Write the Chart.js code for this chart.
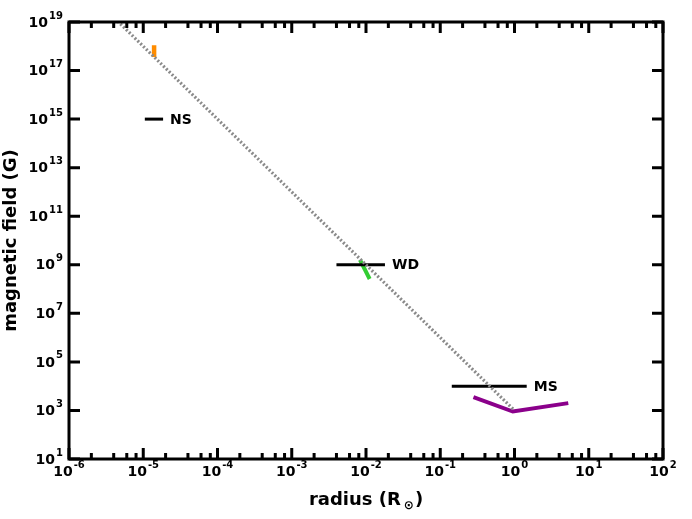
<!DOCTYPE html>
<html>
<head>
<meta charset="utf-8">
<script src="https://cdn.jsdelivr.net/npm/chart.js@4"></script>
<style>
  html, body { margin: 0; padding: 0; background: #fff; }
</style>
</head>
<body>
<canvas id="chart-bfield" width="692" height="519"></canvas>
<script>
// axis ranges + ticks (exponents of 10)
const xRange = [1e-6, 1e2];
const yRange = [1e1, 1e19];
const xTickExps = [-6, -5, -4, -3, -2, -1, 0, 1, 2];
const yTickExps = [1, 3, 5, 7, 9, 11, 13, 15, 17, 19];
const xMinorMults = [2, 4, 6, 8];

// series: radius (R_sun) vs field (G)
const scalingR = [1e-6, 1];
const scalingB = [1e21, 1e3];
const orangeR = [1.4e-5, 1.4e-5];
const orangeB = [1.1e18, 3.6e17];
const nsR = [1.05e-5, 1.85e-5];
const nsB = [1e15, 1e15];
const wdR = [4e-3, 1.8e-2];
const wdB = [1e9, 1e9];
const greenR = [8.3e-3, 1.12e-2];
const greenB = [1.6e9, 2.6e8];
const msR = [0.143, 1.46];
const msB = [1e4, 1e4];
const purpleR = [0.28, 0.95, 5.3];
const purpleB = [3.5e3, 9e2, 2e3];
const groupNames = ['NS', 'WD', 'MS'];

const FONT = "'DejaVu Sans', sans-serif";

function pts(xs, ys) { return xs.map((x, i) => ({ x: x, y: ys[i] })); }

function seg(data, color, width, dash) {
    return { data: data, borderColor: color, borderWidth: width, borderDash: dash || [],
             showLine: true, pointRadius: 0, fill: false, borderCapStyle: 'butt', tension: 0 };
}

function powLabel(ctx, exp, x, y, align) {
    const base = '10', sup = String(exp);
    ctx.font = 'bold 14px ' + FONT;
    const wb = ctx.measureText(base).width;
    ctx.font = 'bold 10px ' + FONT;
    const ws = ctx.measureText(sup).width;
    let x0 = align === 'right' ? x - wb - ws - 1 : x - (wb + ws + 1) / 2;
    ctx.textAlign = 'left'; ctx.textBaseline = 'middle';
    ctx.font = 'bold 14px ' + FONT;
    ctx.fillText(base, x0, y);
    ctx.font = 'bold 10px ' + FONT;
    ctx.fillText(sup, x0 + wb + 1, y - 7);
}

const axesPlugin = {
    id: 'axesPlugin',
    afterDraw(chart) {
        const ctx = chart.ctx, a = chart.chartArea;
        const sx = chart.scales.x, sy = chart.scales.y;
        ctx.save();
        ctx.strokeStyle = '#000'; ctx.fillStyle = '#000';
        ctx.lineWidth = 3;
        ctx.strokeRect(a.left, a.top, a.right - a.left, a.bottom - a.top);

        // x ticks, inward on bottom + top
        xTickExps.forEach((e, i) => {
            const px = sx.getPixelForValue(Math.pow(10, e));
            ctx.beginPath();
            ctx.moveTo(px, a.bottom); ctx.lineTo(px, a.bottom - 11);
            ctx.moveTo(px, a.top); ctx.lineTo(px, a.top + 11);
            ctx.stroke();
            if (i < xTickExps.length - 1) {
                xMinorMults.forEach(m => {
                    const mx = sx.getPixelForValue(m * Math.pow(10, e));
                    ctx.beginPath();
                    ctx.moveTo(mx, a.bottom); ctx.lineTo(mx, a.bottom - 6);
                    ctx.moveTo(mx, a.top); ctx.lineTo(mx, a.top + 6);
                    ctx.stroke();
                });
            }
            powLabel(ctx, e, px, a.bottom + 13, 'center');
        });

        // y ticks, inward on left + right
        yTickExps.forEach(e => {
            const py = sy.getPixelForValue(Math.pow(10, e));
            ctx.beginPath();
            ctx.moveTo(a.left, py); ctx.lineTo(a.left + 11, py);
            ctx.moveTo(a.right, py); ctx.lineTo(a.right - 11, py);
            ctx.stroke();
            powLabel(ctx, e, a.left - 6, py + 1, 'right');
        });

        // group labels next to the horizontal bars
        [[nsR, nsB], [wdR, wdB], [msR, msB]].forEach((g, i) => {
            const px = sx.getPixelForValue(g[0][1]) + 7;
            const py = sy.getPixelForValue(g[1][1]);
            ctx.font = 'bold 14px ' + FONT;
            ctx.textAlign = 'left'; ctx.textBaseline = 'middle';
            ctx.fillText(groupNames[i], px, py + 1);
        });

        // axis titles
        const cx = (a.left + a.right) / 2;
        ctx.font = 'bold 18px ' + FONT;
        const t1 = 'radius (R', t3 = ')';
        const w1 = ctx.measureText(t1).width, w3 = ctx.measureText(t3).width;
        ctx.font = 'bold 12px ' + FONT;
        const w2 = ctx.measureText('\u2299').width + 4;
        let x0 = cx - (w1 + w2 + w3) / 2;
        ctx.textAlign = 'left'; ctx.textBaseline = 'alphabetic';
        ctx.font = 'bold 18px ' + FONT;
        ctx.fillText(t1, x0, 505);
        ctx.font = 'bold 12px ' + FONT;
        ctx.fillText('\u2299', x0 + w1 + 3, 509);
        ctx.font = 'bold 18px ' + FONT;
        ctx.fillText(t3, x0 + w1 + w2, 505);

        ctx.translate(16, (a.top + a.bottom) / 2);
        ctx.rotate(-Math.PI / 2);
        ctx.textAlign = 'center'; ctx.textBaseline = 'alphabetic';
        ctx.fillText('magnetic field (G)', 0, 0);
        ctx.restore();
    }
};

new Chart(document.getElementById('chart-bfield').getContext('2d'), {
    type: 'scatter',
    data: { datasets: [
        seg(pts(scalingR, scalingB), '#8a8a8a', 3.2, [2, 2]),
        seg(pts(orangeR, orangeB), '#FF8C00', 4.5),
        seg(pts(nsR, nsB), '#000000', 3),
        seg(pts(wdR, wdB), '#000000', 3),
        seg(pts(greenR, greenB), '#32CD32', 4),
        seg(pts(msR, msB), '#000000', 3),
        seg(pts(purpleR, purpleB), '#8B008B', 4)
    ] },
    options: {
        responsive: false, animation: false, devicePixelRatio: 1,
        layout: { padding: { left: 69, top: 22, right: 29, bottom: 60 } },
        plugins: { legend: { display: false }, tooltip: { enabled: false } },
        scales: {
            x: { type: 'logarithmic', min: xRange[0], max: xRange[1], display: false },
            y: { type: 'logarithmic', min: yRange[0], max: yRange[1], display: false }
        }
    },
    plugins: [axesPlugin]
});
</script>
</body>
</html>
